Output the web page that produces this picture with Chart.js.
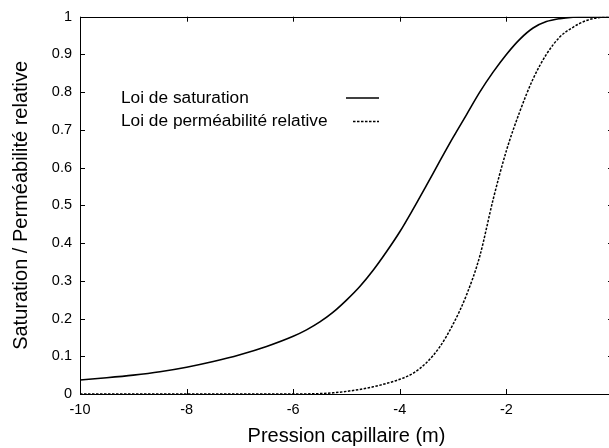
<!DOCTYPE html>
<html>
<head>
<meta charset="utf-8">
<script src="https://cdn.jsdelivr.net/npm/chart.js@4.4.1/dist/chart.umd.min.js"></script>
<style>
    html, body { margin: 0; padding: 0; background: #fff; overflow: hidden; }
    #wrap { width: 640px; height: 448px; }
</style>
</head>
<body>
<div id="wrap"><canvas id="capChart" width="640" height="448"></canvas></div>
<script>
// Loi de saturation
const satX = [-10, -9.5, -9, -8.5, -8, -7.5, -7, -6.5, -6, -5.75, -5.5, -5.25, -5, -4.75, -4.5, -4.25, -4,
    -3.75, -3.5, -3.25, -3, -2.75, -2.5, -2.25, -2, -1.75, -1.5, -1.25, -1, -0.75, -0.5, 0];
const satY = [0.037, 0.043, 0.050, 0.059, 0.071, 0.086, 0.104, 0.126, 0.153, 0.170, 0.191, 0.217, 0.249, 0.285, 0.328, 0.377, 0.430,
    0.490, 0.553, 0.617, 0.680, 0.740, 0.800, 0.853, 0.900, 0.940, 0.970, 0.987, 0.995, 0.999, 1, 1];

// Loi de perméabilité relative
const permX = [-10, -6, -5.5, -5.25, -5, -4.75, -4.5, -4.25, -4, -3.75, -3.5, -3.25, -3, -2.75, -2.5,
    -2.25, -2, -1.75, -1.5, -1.25, -1, -0.75, -0.5, -0.25, 0];
const permY = [0, 0, 0.001, 0.003, 0.007, 0.012, 0.019, 0.028, 0.039, 0.055, 0.083, 0.125, 0.185, 0.262, 0.365,
    0.515, 0.645, 0.748, 0.835, 0.900, 0.946, 0.972, 0.990, 0.998, 1];

const seriesLabels = ['Loi de saturation', 'Loi de perméabilité relative'];
const xTickLabels = ['-10', '-8', '-6', '-4', '-2', '0'];
const yTickLabels = ['0', '0.1', '0.2', '0.3', '0.4', '0.5', '0.6', '0.7', '0.8', '0.9', '1'];

const FONT = '"Liberation Sans", Arial, sans-serif';

// gnuplot-like frame with inward ticks on all four sides
const framePlugin = {
    id: 'frame',
    afterDatasetsDraw(chart) {
        const { ctx, chartArea, scales } = chart;
        const { left, right, top, bottom } = chartArea;
        ctx.save();
        ctx.strokeStyle = '#000';
        ctx.lineWidth = 1;
        ctx.strokeRect(Math.round(left) + 0.5, Math.round(top) + 0.5, Math.round(right - left), Math.round(bottom - top));
        ctx.beginPath();
        scales.x.ticks.forEach(t => {
            const px = Math.round(scales.x.getPixelForValue(t.value)) + 0.5;
            ctx.moveTo(px, bottom); ctx.lineTo(px, bottom - 5);
            ctx.moveTo(px, top); ctx.lineTo(px, top + 5);
        });
        scales.y.ticks.forEach(t => {
            const py = Math.round(scales.y.getPixelForValue(t.value)) + 0.5;
            ctx.moveTo(left, py); ctx.lineTo(left + 5, py);
            ctx.moveTo(right, py); ctx.lineTo(right - 5, py);
        });
        ctx.stroke();
        ctx.restore();
    }
};

// legend: text on the left, line sample on the right
const keyPlugin = {
    id: 'key',
    afterDraw(chart) {
        const ctx = chart.ctx;
        ctx.save();
        ctx.font = '17.3px ' + FONT;
        ctx.fillStyle = '#000';
        ctx.textBaseline = 'middle';
        chart.data.datasets.forEach((ds, i) => {
            const yy = 98 + i * 23.5;
            ctx.fillText(ds.label, 121, yy);
            ctx.beginPath();
            ctx.strokeStyle = '#000';
            ctx.lineWidth = ds.borderWidth;
            ctx.setLineDash(ds.borderDash || []);
            ctx.moveTo(ds.borderDash ? 353 : 346, yy);
            ctx.lineTo(379, yy);
            ctx.stroke();
        });
        ctx.restore();
    }
};

new Chart(document.getElementById('capChart'), {
    type: 'line',
    data: {
        datasets: [{
            label: seriesLabels[0],
            data: satX.map((x, i) => ({ x: x, y: satY[i] })),
            borderColor: '#000',
            borderWidth: 1.6,
            pointRadius: 0,
            cubicInterpolationMode: 'monotone'
        }, {
            label: seriesLabels[1],
            data: permX.map((x, i) => ({ x: x, y: permY[i] })),
            borderColor: '#000',
            borderWidth: 1.5,
            borderDash: [2.5, 1.5],
            pointRadius: 0,
            cubicInterpolationMode: 'monotone'
        }]
    },
    options: {
        responsive: false,
        animation: false,
        layout: { padding: { left: 0, right: 27, top: 12, bottom: 0 } },
        plugins: {
            legend: { display: false },
            tooltip: { enabled: false }
        },
        scales: {
            x: {
                type: 'linear',
                min: -10,
                max: 0,
                grid: { display: false, drawTicks: false },
                border: { display: false },
                ticks: {
                    stepSize: 2,
                    padding: 7,
                    color: '#000',
                    font: { family: FONT, size: 14.5 },
                    maxRotation: 0,
                    callback: (v) => xTickLabels[Math.round((v + 10) / 2)]
                },
                title: {
                    display: true,
                    text: 'Pression capillaire (m)',
                    color: '#000',
                    font: { family: FONT, size: 20 },
                    padding: { top: 4, bottom: 0 }
                },
                afterFit: (scale) => { scale.height = 54; }
            },
            y: {
                min: 0,
                max: 1,
                grid: { display: false, drawTicks: false },
                border: { display: false },
                ticks: {
                    stepSize: 0.1,
                    padding: 8,
                    color: '#000',
                    font: { family: FONT, size: 14.5 },
                    callback: (v) => yTickLabels[Math.round(v * 10)]
                },
                title: {
                    display: true,
                    text: 'Saturation / Perméabilité relative',
                    color: '#000',
                    font: { family: FONT, size: 20 },
                    padding: { top: 9, bottom: 0 }
                },
                afterFit: (scale) => { scale.width = 80; }
            }
        }
    },
    plugins: [framePlugin, keyPlugin]
});
</script>
</body>
</html>
